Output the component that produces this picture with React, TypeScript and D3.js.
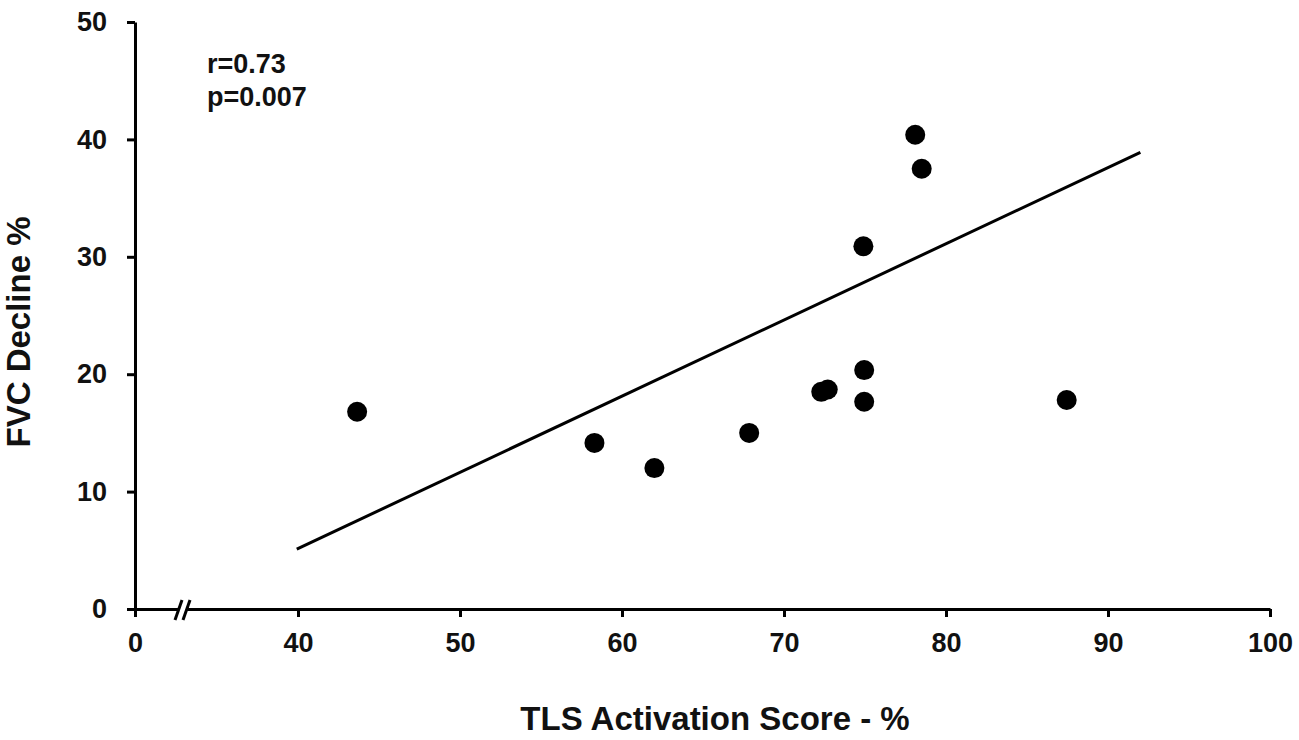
import { useRef, useEffect } from "react";
import * as d3 from "d3";

const WIDTH = 1299;
const HEIGHT = 740;

// TLS activation score (%) vs FVC decline (%)
const tlsScore = [43.65, 58.3, 62.0, 67.85, 72.3, 72.7, 74.95, 74.95, 74.9, 78.1, 78.5, 87.45];
const fvcDecline = [16.8, 14.15, 12.0, 15.0, 18.5, 18.7, 20.35, 17.65, 30.9, 40.4, 37.5, 17.8];

// regression line end points
const fitX = [39.7, 92.0];
const fitY = [5.1, 38.9];

const xTicks = [0, 40, 50, 60, 70, 80, 90, 100];
const yTicks = [0, 10, 20, 30, 40, 50];
const statLines = ["r=0.73", "p=0.007"];

const FONT = "'Liberation Sans', Arial, Helvetica, sans-serif";

export default function App() {
  const svgRef = useRef<SVGSVGElement>(null);

  useEffect(() => {
    if (!svgRef.current) return;
    const svg = d3.select(svgRef.current);
    svg.selectAll("*").remove();

    const left = 135;
    const top = 22;
    const right = 1270;
    const bottom = 609;

    // broken axis: 0 sits at the origin, 40..100 spans the rest
    const xScale = d3.scaleLinear().domain([0, 40, 100]).range([left, 298, right]);
    const yScale = d3.scaleLinear().domain([0, 50]).range([bottom, top]);

    const g = svg.append("g").attr("font-family", FONT);

    // X axis
    g.append("g")
      .attr("transform", `translate(0,${bottom})`)
      .call(d3.axisBottom(xScale).tickValues(xTicks).tickSize(8).tickSizeOuter(0).tickFormat(d3.format("d")))
      .call((a) => a.select(".domain").attr("stroke", "#000").attr("stroke-width", 3))
      .call((a) => a.selectAll(".tick line").attr("stroke", "#000").attr("stroke-width", 3))
      .call((a) =>
        a
          .selectAll(".tick text")
          .attr("fill", "#111")
          .attr("font-size", "27px")
          .attr("font-weight", "bold")
          .attr("font-family", FONT)
          .attr("y", 24)
      );

    // Y axis
    g.append("g")
      .attr("transform", `translate(${left},0)`)
      .call(d3.axisLeft(yScale).tickValues(yTicks).tickSize(8).tickSizeOuter(0))
      .call((a) => a.select(".domain").attr("stroke", "#000").attr("stroke-width", 3))
      .call((a) => a.selectAll(".tick line").attr("stroke", "#000").attr("stroke-width", 3))
      .call((a) =>
        a
          .selectAll(".tick text")
          .attr("fill", "#111")
          .attr("font-size", "27px")
          .attr("font-weight", "bold")
          .attr("font-family", FONT)
          .attr("x", -28)
      );

    // axis break "//"
    const bx = left + 48;
    g.append("rect")
      .attr("x", bx - 4)
      .attr("y", bottom - 4)
      .attr("width", 8)
      .attr("height", 8)
      .attr("fill", "#fff");
    [-4, 4].forEach((off) => {
      g.append("line")
        .attr("x1", bx + off - 4)
        .attr("y1", bottom + 11)
        .attr("x2", bx + off + 3)
        .attr("y2", bottom - 9)
        .attr("stroke", "#000")
        .attr("stroke-width", 3);
    });

    // regression line
    const fit = fitX.map((x, i) => [x, fitY[i]] as [number, number]);
    g.append("path")
      .datum(fit)
      .attr("fill", "none")
      .attr("stroke", "#000")
      .attr("stroke-width", 3)
      .attr(
        "d",
        d3
          .line<[number, number]>()
          .x((d) => xScale(d[0]))
          .y((d) => yScale(d[1]))
      );

    // points
    g.selectAll(".dot")
      .data(tlsScore.map((x, i) => ({ x, y: fvcDecline[i] })))
      .enter()
      .append("circle")
      .attr("class", "dot")
      .attr("cx", (d) => xScale(d.x))
      .attr("cy", (d) => yScale(d.y))
      .attr("r", 10)
      .attr("fill", "#000");

    // stats
    g.selectAll(".stat")
      .data(statLines)
      .enter()
      .append("text")
      .attr("class", "stat")
      .attr("x", 207)
      .attr("y", (_, i) => 73 + i * 33)
      .attr("font-size", "27px")
      .attr("font-weight", "bold")
      .attr("fill", "#111")
      .text((d) => d);

    // axis titles
    g.append("text")
      .attr("x", 715)
      .attr("y", 730)
      .attr("text-anchor", "middle")
      .attr("font-size", "33px")
      .attr("font-weight", "bold")
      .attr("fill", "#111")
      .text("TLS Activation Score - %");

    g.append("text")
      .attr("transform", "rotate(-90)")
      .attr("x", -332)
      .attr("y", 30)
      .attr("text-anchor", "middle")
      .attr("font-size", "33px")
      .attr("font-weight", "bold")
      .attr("fill", "#111")
      .text("FVC Decline %");
  }, []);

  return (
    <div style={{ position: "absolute", left: 0, top: 0, background: "#fff" }}>
      <svg ref={svgRef} width={WIDTH} height={HEIGHT} style={{ display: "block" }} />
    </div>
  );
}
